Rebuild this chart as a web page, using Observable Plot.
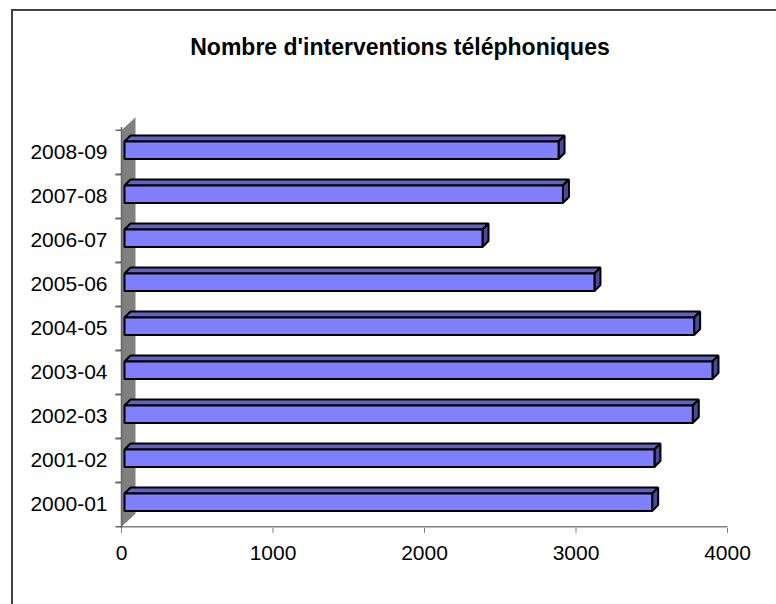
<!DOCTYPE html>
<html>
<head>
<meta charset="utf-8">
<script src="https://cdn.jsdelivr.net/npm/d3@7"></script>
<script src="https://cdn.jsdelivr.net/npm/@observablehq/plot@0.6"></script>
<style>
  body { margin: 0; background: #fff; overflow: hidden; }
  #wrap { position: relative; width: 776px; height: 604px; overflow: hidden; font-family: "Liberation Sans", Arial, sans-serif; }
  #border { position: absolute; left: 11px; top: 9px; width: 900px; height: 900px; border-left: 2px solid #404040; border-top: 2px solid #404040; }
  #title { position: absolute; left: 0; top: 36px; width: 800px; text-align: center; font-size: 23px; line-height: 23px; font-weight: bold; color: #000; }
  #chart { position: absolute; left: 0; top: 0; }
</style>
</head>
<body>
<div id="wrap">
  <div id="border"></div>
  <div id="title">Nombre d'interventions téléphoniques</div>
  <div id="chart"></div>
</div>
<script>
// ---- data ----
const seasons = ["2000-01", "2001-02", "2002-03", "2003-04", "2004-05", "2005-06", "2006-07", "2007-08", "2008-09"];
const interventions = [3483, 3498, 3751, 3881, 3760, 3102, 2363, 2894, 2865];
const xTicks = [0, 1000, 2000, 3000, 4000];

// ---- layout / style ----
const W = 776, H = 604;
const mTop = 127, mBottom = 76, mLeft = 121, mRight = 49;
const half = (H - mTop - mBottom) / seasons.length / 2;
const depth = 6, gap = 3, faceTop = -8, faceBottom = 9.5;
const wallDx = 14, wallDy = 13;
const frontColor = "#8080ff", topColor = "#6262c4", sideColor = "#4a4a9a";

const rows = seasons.map((s, i) => ({season: s, value: interventions[i]}));

// custom curve: builds polygons/polylines from the two scaled end points of a link
function shapeCurve(build, closed = true) {
  return (context) => {
    let pts = [];
    return {
      areaStart() {}, areaEnd() {},
      lineStart() { pts = []; },
      point(x, y) { pts.push([+x, +y]); },
      lineEnd() {
        const shapes = build(pts[0], pts[pts.length - 1]);
        for (const poly of shapes) {
          poly.forEach(([x, y], i) => i ? context.lineTo(x, y) : context.moveTo(x, y));
          if (closed) context.closePath();
        }
      }
    };
  };
}

function box(which) {
  return shapeCurve(([x1, cy], [x2]) => {
    const L = x1 + gap, R = x2 + gap, T = cy + faceTop - gap, B = cy + faceBottom - gap;
    if (which === "front") return [[[L, T], [R, T], [R, B], [L, B]]];
    if (which === "top") return [[[L, T], [R, T], [R + depth, T - depth], [L + depth, T - depth]]];
    return [[[R, T], [R + depth, T - depth], [R + depth, B - depth], [R, B]]];
  });
}

const wallCurve = shapeCurve(([x, ya], [, yb]) => {
  const t = Math.min(ya, yb) - half, b = Math.max(ya, yb) + half;
  return [[[x, t], [x + wallDx, t - wallDy], [x + wallDx, b - wallDy], [x, b]]];
});

const tickCurve = shapeCurve(([x, y]) => [
  [[x - 6, y - half], [x, y - half]],
  [[x - 6, y + half], [x, y + half]]
], false);

const linkOpts = {x1: () => 0, x2: "value", y1: "season", y2: "season", strokeWidth: 2, stroke: "#000", strokeLinejoin: "miter"};

const chart = Plot.plot({
  width: W,
  height: H,
  marginTop: mTop,
  marginBottom: mBottom,
  marginLeft: mLeft,
  marginRight: mRight,
  style: {background: "transparent", fontFamily: "'Liberation Sans', Arial, sans-serif", fontSize: "21px", color: "#000", overflow: "visible"},
  x: {domain: [0, d3.max(xTicks)]},
  y: {type: "band", domain: seasons.slice().reverse(), padding: 0},
  marks: [
    // gray back wall
    Plot.link([{a: seasons[seasons.length - 1], b: seasons[0]}], {x1: () => 0, x2: () => 0, y1: "a", y2: "b", curve: wallCurve, fill: "#808080", stroke: "none"}),
    // value axis line & category axis line
    Plot.ruleX([0], {stroke: "#666666", strokeWidth: 1.5}),
    Plot.link([{s: seasons[0]}], {x1: () => 0, x2: () => d3.max(xTicks), y1: "s", y2: "s", dy: half, stroke: "#808080", strokeWidth: 1.5}),
    // category tick marks (between categories)
    Plot.link(rows, {x1: () => 0, x2: () => 0, y1: "season", y2: "season", curve: tickCurve, stroke: "#666666", strokeWidth: 1.5}),
    // 3D bars
    Plot.link(rows, {...linkOpts, curve: box("top"), fill: topColor}),
    Plot.link(rows, {...linkOpts, curve: box("side"), fill: sideColor}),
    Plot.link(rows, {...linkOpts, curve: box("front"), fill: frontColor}),
    Plot.axisX({ticks: xTicks, tickSize: 5, tickPadding: 12, stroke: "#808080", tickFormat: d3.format("d"), label: null}),
    Plot.axisY({tickSize: 0, tickPadding: 14, label: null})
  ]
});
document.getElementById("chart").append(chart);
</script>
</body>
</html>
